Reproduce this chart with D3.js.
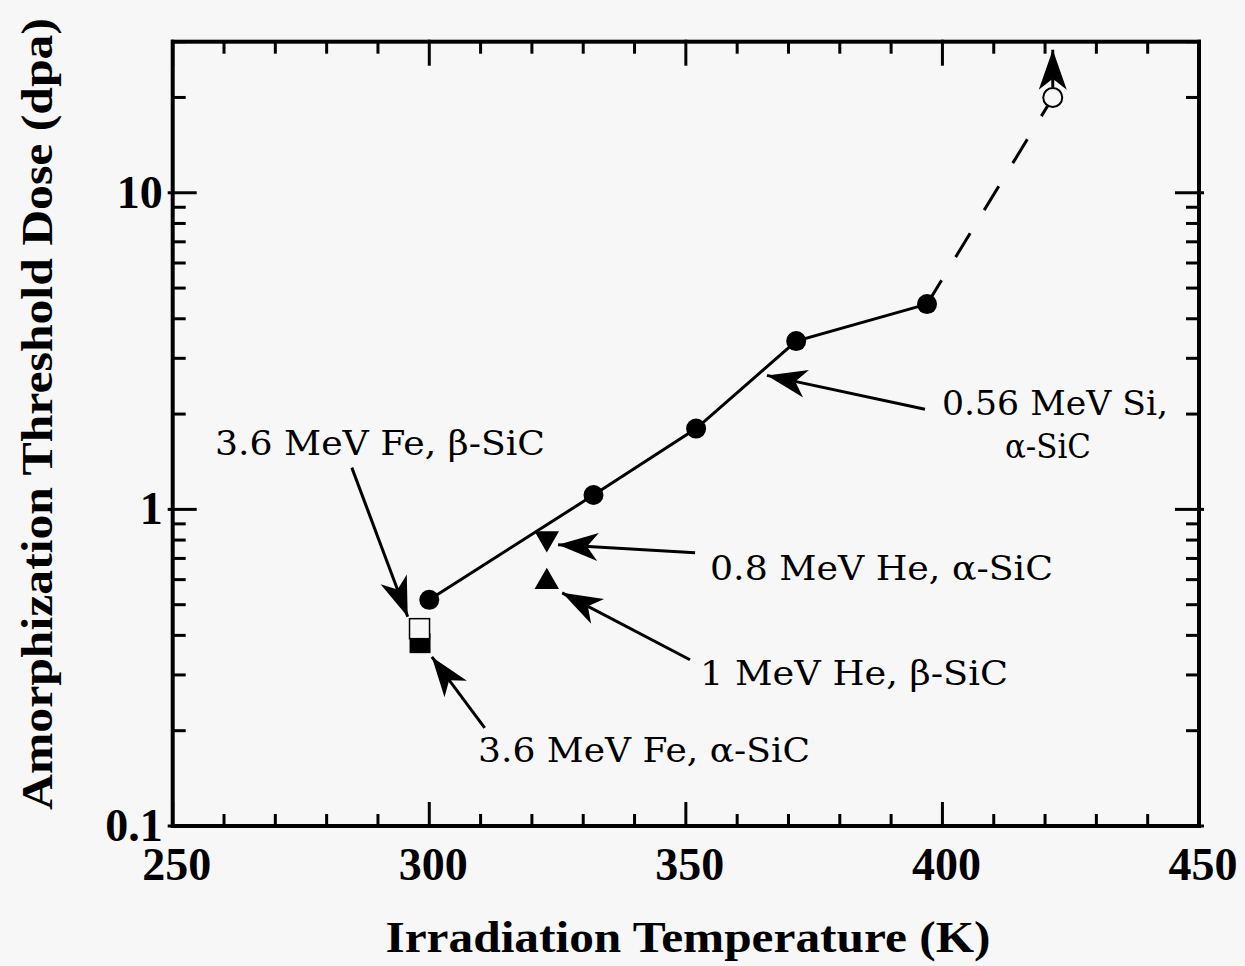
<!DOCTYPE html>
<html>
<head>
<meta charset="utf-8">
<script src="https://cdn.jsdelivr.net/npm/d3@7"></script>
<style>
  body { margin: 0; background: #f7f7f7; }
  svg { display: block; }
</style>
</head>
<body>
<div id="chart-area"></div>
<script>
// Datos
const siTemps = [300, 332, 352, 371.5, 397];
const siDoses = [0.518, 1.11, 1.8, 3.4, 4.45];
const siOpenTemp = [421.5];
const siOpenDose = [20];
const he08Temp = [322.9], he08Dose = [0.81];   // 0.8 MeV He, alpha-SiC
const he1Temp = [322.9], he1Dose = [0.59];     // 1 MeV He, beta-SiC
const feBetaTemp = [298.1], feBetaDose = [0.42];
const feAlphaTemp = [298.2], feAlphaDose = [0.378];
const xTicks = [250, 300, 350, 400, 450];
const yTicks = [0.1, 1, 10];
const yTickLabels = ["0.1", "1", "10"];

const W = 1245, H = 966;
const margin = { top: 41.7, left: 172.7, right: 46, bottom: 140 };
const width = 1199 - margin.left;
const height = 826 - margin.top;

const svg = d3.select("#chart-area").append("svg")
    .attr("width", W).attr("height", H)
    .style("background", "#f7f7f7");

const defs = svg.append("defs");
defs.append("marker")
    .attr("id", "head")
    .attr("markerUnits", "userSpaceOnUse")
    .attr("viewBox", "-42 -16 44 32")
    .attr("refX", 0).attr("refY", 0)
    .attr("markerWidth", 44).attr("markerHeight", 32)
    .attr("orient", "auto")
    .append("path")
    .attr("d", "M0,0 L-40,-14 L-29,0 L-40,14 Z")
    .attr("fill", "#000");

const g = svg.append("g").attr("transform", `translate(${margin.left}, ${margin.top})`);

const x = d3.scaleLinear().domain([250, 450]).range([0, width]);
const y = d3.scaleLog().domain([0.1, 30]).range([height, 0]);

// Ticks menores
const xMinor = d3.range(250, 451, 10).filter(v => v % 50 !== 0);
const yMinor = [];
[0.1, 1, 10].forEach(b => d3.range(2, 10).forEach(k => { if (b * k <= 30) yMinor.push(b * k); }));
const yMajor = [0.1, 1, 10];

const axes = g.append("g").attr("stroke", "#000").attr("stroke-linecap", "butt");
// marco
axes.append("rect").attr("x", 0).attr("y", 0).attr("width", width).attr("height", height)
    .attr("fill", "none").attr("stroke-width", 4);

xMinor.forEach(v => {
    axes.append("line").attr("x1", x(v)).attr("x2", x(v)).attr("y1", height).attr("y2", height - 12).attr("stroke-width", 3);
    axes.append("line").attr("x1", x(v)).attr("x2", x(v)).attr("y1", 0).attr("y2", 12).attr("stroke-width", 3);
});
xTicks.forEach(v => {
    axes.append("line").attr("x1", x(v)).attr("x2", x(v)).attr("y1", height + 2).attr("y2", height - 24).attr("stroke-width", 3);
    axes.append("line").attr("x1", x(v)).attr("x2", x(v)).attr("y1", -2).attr("y2", 24).attr("stroke-width", 3);
});
yMinor.forEach(v => {
    axes.append("line").attr("x1", 0).attr("x2", 13).attr("y1", y(v)).attr("y2", y(v)).attr("stroke-width", 3);
    axes.append("line").attr("x1", width).attr("x2", width - 13).attr("y1", y(v)).attr("y2", y(v)).attr("stroke-width", 3);
});
yMajor.forEach(v => {
    axes.append("line").attr("x1", -5).attr("x2", 24).attr("y1", y(v)).attr("y2", y(v)).attr("stroke-width", 3);
    axes.append("line").attr("x1", width + 5).attr("x2", width - 24).attr("y1", y(v)).attr("y2", y(v)).attr("stroke-width", 3);
});

// Etiquetas de ticks
const tickFont = "'Liberation Serif', 'Times New Roman', serif";
g.selectAll(".xlab").data(xTicks).enter().append("text")
    .attr("x", d => x(d) + 4).attr("y", height + 54)
    .attr("text-anchor", "middle")
    .attr("font-family", tickFont).attr("font-weight", "bold").attr("font-size", "46px")
    .text(d => d);
g.selectAll(".ylab").data(yTicks).enter().append("text")
    .attr("x", -10).attr("y", d => y(d) + 15)
    .attr("text-anchor", "end")
    .attr("font-family", tickFont).attr("font-weight", "bold").attr("font-size", "46px")
    .text((d, i) => yTickLabels[i]);

// Títulos de ejes
svg.append("text")
    .attr("x", 688).attr("y", 952)
    .attr("text-anchor", "middle")
    .attr("font-family", tickFont).attr("font-weight", "bold").attr("font-size", "44px")
    .attr("textLength", 605).attr("lengthAdjust", "spacingAndGlyphs")
    .text("Irradiation Temperature (K)");
svg.append("text")
    .attr("transform", "translate(52, 414) rotate(-90)")
    .attr("text-anchor", "middle")
    .attr("font-family", tickFont).attr("font-weight", "bold").attr("font-size", "44px")
    .attr("textLength", 792).attr("lengthAdjust", "spacingAndGlyphs")
    .text("Amorphization Threshold Dose (dpa)");

// Línea sólida y discontinua
const line = d3.line().x(d => x(d[0])).y(d => y(d[1]));
const siPts = siTemps.map((t, i) => [t, siDoses[i]]);
g.append("path").attr("d", line(siPts))
    .attr("fill", "none").attr("stroke", "#000").attr("stroke-width", 3);
g.append("path")
    .attr("d", line([[siTemps[siTemps.length - 1], siDoses[siDoses.length - 1]], [siOpenTemp[0], siOpenDose[0]]]))
    .attr("fill", "none").attr("stroke", "#000").attr("stroke-width", 3)
    .attr("stroke-dasharray", "28,27");

// Flechas de anotación (coordenadas en unidades de datos)
const arrows = [
    { from: [284.9, 1.355], to: [295.8, 0.458] },
    { from: [396.6, 2.07], to: [365.8, 2.65] },
    { from: [351.8, 0.73], to: [325.1, 0.773] },
    { from: [350.8, 0.335], to: [325.9, 0.545] },
    { from: [310.8, 0.204], to: [300.5, 0.342] }
];
arrows.forEach(a => {
    g.append("line")
        .attr("x1", x(a.from[0])).attr("y1", y(a.from[1]))
        .attr("x2", x(a.to[0])).attr("y2", y(a.to[1]))
        .attr("stroke", "#000").attr("stroke-width", 3)
        .attr("marker-end", "url(#head)");
});
// flecha hacia arriba sobre el círculo abierto
g.append("line")
    .attr("x1", x(siOpenTemp[0])).attr("y1", y(siOpenDose[0]) - 10)
    .attr("x2", x(siOpenTemp[0])).attr("y2", y(28.3))
    .attr("stroke", "#000").attr("stroke-width", 3)
    .attr("marker-end", "url(#head)");

// Marcadores
g.selectAll(".si").data(siPts).enter().append("circle")
    .attr("cx", d => x(d[0])).attr("cy", d => y(d[1])).attr("r", 10).attr("fill", "#000");
g.append("circle")
    .attr("cx", x(siOpenTemp[0])).attr("cy", y(siOpenDose[0])).attr("r", 9.5)
    .attr("fill", "#f7f7f7").attr("stroke", "#000").attr("stroke-width", 2);

const tri = d3.symbol().type(d3.symbolTriangle).size(260);
g.append("path").attr("d", tri)
    .attr("transform", `translate(${x(he08Temp[0])}, ${y(he08Dose[0])}) rotate(180)`)
    .attr("fill", "#000");
g.append("path").attr("d", tri)
    .attr("transform", `translate(${x(he1Temp[0])}, ${y(he1Dose[0])})`)
    .attr("fill", "#000");

g.append("rect")
    .attr("x", x(feAlphaTemp[0]) - 10.5).attr("y", y(feAlphaDose[0]) - 10)
    .attr("width", 21).attr("height", 20).attr("fill", "#000");
g.append("rect")
    .attr("x", x(feBetaTemp[0]) - 10).attr("y", y(feBetaDose[0]) - 10)
    .attr("width", 20).attr("height", 20)
    .attr("fill", "#f7f7f7").attr("stroke", "#000").attr("stroke-width", 1.5);

// Textos de anotación
const annFont = "'DejaVu Serif', serif";
const labels = [
    { text: "3.6 MeV Fe, β-SiC", x: 215, y: 455, len: 330 },
    { text: "0.56 MeV Si,", x: 942, y: 415, len: 226 },
    { text: "α-SiC", x: 1005, y: 458, len: 86 },
    { text: "0.8 MeV He, α-SiC", x: 710, y: 580, len: 343 },
    { text: "1 MeV He, β-SiC", x: 700, y: 685, len: 308 },
    { text: "3.6 MeV Fe, α-SiC", x: 478, y: 762, len: 332 }
];
labels.forEach(l => {
    svg.append("text")
        .attr("x", l.x).attr("y", l.y)
        .attr("font-family", annFont).attr("font-size", "33px")
        .attr("textLength", l.len).attr("lengthAdjust", "spacingAndGlyphs")
        .text(l.text);
});
</script>
</body>
</html>
